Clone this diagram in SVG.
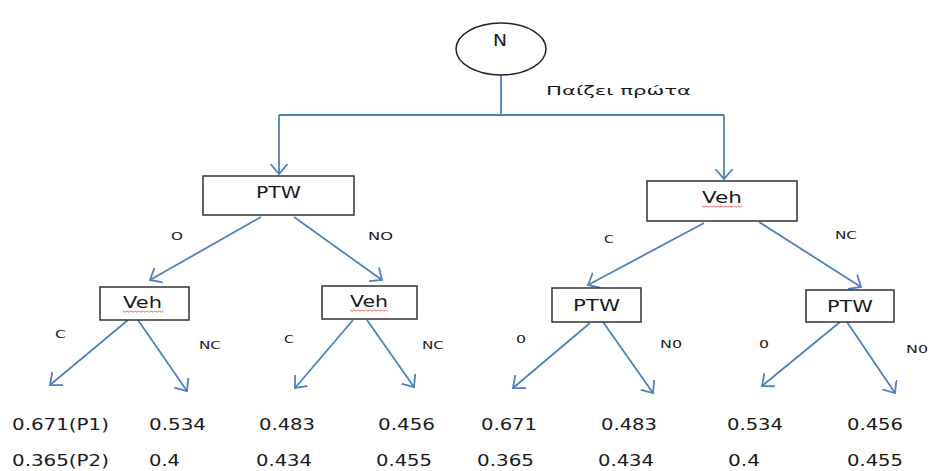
<svg xmlns="http://www.w3.org/2000/svg" width="929" height="471" viewBox="0 0 929 471">
<defs>
<marker id="ah" markerUnits="userSpaceOnUse" markerWidth="20" markerHeight="20" refX="10" refY="10" orient="auto" viewBox="0 0 20 20">
<path d="M0,1.5 L10,10 L0,18.5" fill="none" stroke="#4f81bd" stroke-width="1.8"/>
</marker>
<style>
.box{fill:#fff;stroke:#333;stroke-width:1.5}
.ln{fill:none;stroke:#4f81bd;stroke-width:1.8}
.ar{fill:none;stroke:#4f81bd;stroke-width:1.8;marker-end:url(#ah)}
text{font-family:"DejaVu Sans","Liberation Sans",sans-serif;fill:#1a1a1a}
.bl{font-size:15px}
.lb{font-size:11px}
.vl{font-size:16px}
.sq{fill:none;stroke:#e05050;stroke-width:0.8}
</style>
</defs>
<rect width="929" height="471" fill="#fff"/>
<g id="connectors">
<path class="ln" d="M501,75 V115 M279,115 H724"/>
<path class="ar" d="M279,115 V174"/>
<path class="ar" d="M724,115 V179"/>
<path class="ar" d="M261,217 L150,280"/>
<path class="ar" d="M294,217 L382,280"/>
<path class="ar" d="M704,223 L588,285"/>
<path class="ar" d="M759,222 L861,287"/>
<path class="ar" d="M128,320 L50,385"/>
<path class="ar" d="M138,320 L187,391"/>
<path class="ar" d="M353,320 L295,388"/>
<path class="ar" d="M367,320 L414,387"/>
<path class="ar" d="M590,323 L513,388"/>
<path class="ar" d="M603,322 L653,393"/>
<path class="ar" d="M840,322 L762,386"/>
<path class="ar" d="M847,322 L895,393"/>
<text x="546" y="95" font-size="13" textLength="145" lengthAdjust="spacingAndGlyphs">Παίζει πρώτα</text>
<text class="lb" x="171" y="240" textLength="12" lengthAdjust="spacingAndGlyphs">O</text>
<text class="lb" x="368" y="240" textLength="25" lengthAdjust="spacingAndGlyphs">NO</text>
<text class="lb" x="604" y="243" textLength="10" lengthAdjust="spacingAndGlyphs">C</text>
<text class="lb" x="835" y="239" textLength="22" lengthAdjust="spacingAndGlyphs">NC</text>
<text class="lb" x="55" y="338" textLength="11" lengthAdjust="spacingAndGlyphs">C</text>
<text class="lb" x="199" y="349" textLength="22" lengthAdjust="spacingAndGlyphs">NC</text>
<text class="lb" x="284" y="343" textLength="10" lengthAdjust="spacingAndGlyphs">C</text>
<text class="lb" x="422" y="349" textLength="22" lengthAdjust="spacingAndGlyphs">NC</text>
<text class="lb" x="516" y="343" textLength="10" lengthAdjust="spacingAndGlyphs">0</text>
<text class="lb" x="660" y="348" textLength="22" lengthAdjust="spacingAndGlyphs">N0</text>
<text class="lb" x="759" y="348" textLength="10" lengthAdjust="spacingAndGlyphs">0</text>
<text class="lb" x="906" y="353" textLength="22" lengthAdjust="spacingAndGlyphs">N0</text>
</g>
<g id="N">
<ellipse cx="501" cy="49" rx="45" ry="26" fill="#fff" stroke="#222" stroke-width="1.5"/>
<text x="493" y="46" font-size="15" textLength="14" lengthAdjust="spacingAndGlyphs">N</text>
</g>
<g id="PTW-top">
<rect class="box" x="203" y="176" width="151" height="39"/>
<text class="bl" x="256" y="198" textLength="45" lengthAdjust="spacingAndGlyphs">PTW</text>
</g>
<g id="Veh-top">
<rect class="box" x="647" y="181" width="150" height="40"/>
<text class="bl" x="702" y="203" textLength="40" lengthAdjust="spacingAndGlyphs">Veh</text>
<path class="sq" d="M702,206 l2,1.2 l2,-1.2 l2,1.2 l2,-1.2 l2,1.2 l2,-1.2 l2,1.2 l2,-1.2 l2,1.2 l2,-1.2 l2,1.2 l2,-1.2 l2,1.2 l2,-1.2 l2,1.2 l2,-1.2 l2,1.2 l2,-1.2 l2,1.2 l2,-1.2"/>
</g>
<g id="Veh-left">
<rect class="box" x="100" y="287" width="89" height="33"/>
<text class="bl" x="123" y="308" textLength="39" lengthAdjust="spacingAndGlyphs">Veh</text>
<path class="sq" d="M123,311 l2,1.2 l2,-1.2 l2,1.2 l2,-1.2 l2,1.2 l2,-1.2 l2,1.2 l2,-1.2 l2,1.2 l2,-1.2 l2,1.2 l2,-1.2 l2,1.2 l2,-1.2 l2,1.2 l2,-1.2 l2,1.2 l2,-1.2 l2,1.2 l2,-1.2"/>
</g>
<g id="Veh-mid">
<rect class="box" x="322" y="286" width="95" height="33"/>
<text class="bl" x="350" y="307" textLength="38" lengthAdjust="spacingAndGlyphs">Veh</text>
<path class="sq" d="M350,310 l2,1.2 l2,-1.2 l2,1.2 l2,-1.2 l2,1.2 l2,-1.2 l2,1.2 l2,-1.2 l2,1.2 l2,-1.2 l2,1.2 l2,-1.2 l2,1.2 l2,-1.2 l2,1.2 l2,-1.2 l2,1.2 l2,-1.2 l2,1.2"/>
</g>
<g id="PTW-left">
<rect class="box" x="552" y="288" width="89" height="34"/>
<text class="bl" x="573" y="311" textLength="47" lengthAdjust="spacingAndGlyphs">PTW</text>
</g>
<g id="PTW-right">
<rect class="box" x="806" y="290" width="88" height="32"/>
<text class="bl" x="827" y="312" textLength="46" lengthAdjust="spacingAndGlyphs">PTW</text>
</g>
<g id="values">
<text class="vl" x="12" y="430" textLength="97" lengthAdjust="spacingAndGlyphs">0.671(P1)</text>
<text class="vl" x="149" y="430" textLength="57" lengthAdjust="spacingAndGlyphs">0.534</text>
<text class="vl" x="259" y="430" textLength="56" lengthAdjust="spacingAndGlyphs">0.483</text>
<text class="vl" x="378" y="430" textLength="57" lengthAdjust="spacingAndGlyphs">0.456</text>
<text class="vl" x="481" y="430" textLength="56" lengthAdjust="spacingAndGlyphs">0.671</text>
<text class="vl" x="601" y="430" textLength="56" lengthAdjust="spacingAndGlyphs">0.483</text>
<text class="vl" x="727" y="430" textLength="56" lengthAdjust="spacingAndGlyphs">0.534</text>
<text class="vl" x="847" y="430" textLength="56" lengthAdjust="spacingAndGlyphs">0.456</text>
<text class="vl" x="12" y="466" textLength="97" lengthAdjust="spacingAndGlyphs">0.365(P2)</text>
<text class="vl" x="149" y="466" textLength="31" lengthAdjust="spacingAndGlyphs">0.4</text>
<text class="vl" x="256" y="466" textLength="56" lengthAdjust="spacingAndGlyphs">0.434</text>
<text class="vl" x="376" y="466" textLength="56" lengthAdjust="spacingAndGlyphs">0.455</text>
<text class="vl" x="477" y="466" textLength="57" lengthAdjust="spacingAndGlyphs">0.365</text>
<text class="vl" x="598" y="466" textLength="56" lengthAdjust="spacingAndGlyphs">0.434</text>
<text class="vl" x="728" y="466" textLength="32" lengthAdjust="spacingAndGlyphs">0.4</text>
<text class="vl" x="847" y="466" textLength="56" lengthAdjust="spacingAndGlyphs">0.455</text>
</g>
</svg>
